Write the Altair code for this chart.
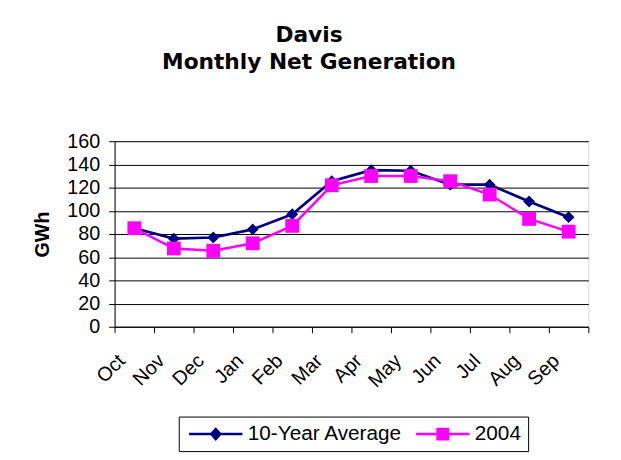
import altair as alt
import pandas as pd

months = ["Oct", "Nov", "Dec", "Jan", "Feb", "Mar", "Apr", "May", "Jun", "Jul", "Aug", "Sep"]
avg10 = [85, 76, 77, 84, 97, 125.5, 135, 134.5, 122.5, 122.5, 108, 94.5]
y2004 = [85, 67.5, 65.5, 72, 87, 122, 130, 130, 125.5, 114, 93, 82]
series = ["10-Year Average", "2004"]
colors = ["#000080", "#FF00FF"]
y_ticks = [0, 20, 40, 60, 80, 100, 120, 140, 160]

rows = []
for s, vals in zip(series, [avg10, y2004]):
    for m, v in zip(months, vals):
        rows.append({"month": m, "series": s, "value": v})
df = pd.DataFrame(rows)

LINE = "M-3.86,-0.18H3.86V0.18H-3.86Z"
legend_shapes = [
    LINE + "M0,-1L0.89,0L0,1L-0.89,0Z",
    LINE + "M-0.93,-0.93H0.93V0.93H-0.93Z",
]

FONT = "Liberation Sans"

x = alt.X(
    "month:N",
    sort=months,
    scale=alt.Scale(type="band", paddingInner=0, paddingOuter=0),
    axis=alt.Axis(
        title=None, tickBand="extent", labelAngle=-45, labelAlign="right",
        labelBaseline="middle", labelPadding=25, labelOffset=-13,
        labelFont=FONT, labelFontSize=20, labelColor="black",
        tickSize=6, tickColor="black", domainColor="black", grid=False,
    ),
)
y = alt.Y(
    "value:Q",
    scale=alt.Scale(domain=[0, 160], nice=False, zero=True),
    axis=alt.Axis(
        title="GWh", values=y_ticks, labelFont=FONT, labelFontSize=20,
        labelColor="black", labelPadding=9, tickSize=6, tickColor="black",
        domainColor="black", grid=True, gridColor="black", gridWidth=1,
        gridOpacity=1, titleFont=FONT, titleFontSize=20, titleFontWeight="bold",
        titleColor="black", titlePadding=15,
    ),
)
color_scale = alt.Scale(domain=series, range=colors)

base = alt.Chart(df).encode(
    x=x, y=y, color=alt.Color("series:N", scale=color_scale, legend=None)
)

line10 = base.transform_filter(alt.datum.series == series[0]).mark_line(strokeWidth=2.7)
pts10 = base.transform_filter(alt.datum.series == series[0]).mark_point(
    filled=True, shape="diamond", size=144, opacity=1
)
line04 = base.transform_filter(alt.datum.series == series[1]).mark_line(strokeWidth=2.5)
pts04 = base.transform_filter(alt.datum.series == series[1]).mark_point(
    filled=True, shape="square", size=196, opacity=1
)

leg = alt.Legend(
    title=None, orient="none", legendX=65, legendY=279, direction="horizontal",
    symbolSize=196, symbolOffset=20, labelOffset=22, columnPadding=10,
    padding=7, strokeColor="black", fillColor="white", labelFont=FONT,
    labelFontSize=21, labelColor="black", symbolStrokeWidth=0, labelLimit=400,
    symbolOpacity=1,
)
legend_layer = base.mark_point(filled=True, size=0, strokeWidth=0).encode(
    color=alt.Color("series:N", scale=color_scale, legend=leg),
    shape=alt.Shape("series:N", scale=alt.Scale(domain=series, range=legend_shapes), legend=leg),
)

chart = (
    alt.layer(line10, pts10, line04, pts04, legend_layer)
    .resolve_legend(color="independent", shape="independent")
    .properties(
        width=480,
        height=188,
        autosize=alt.AutoSizeParams(type="none"),
        padding={"left": 108, "top": 132, "right": 25, "bottom": 130},
        title=alt.TitleParams(
            ["Davis", "Monthly Net Generation"], font="DejaVu Sans", fontSize=22,
            fontWeight="bold", color="black", anchor="middle", dx=-43,
            offset=58, lineHeight=28,
        ),
    )
    .configure_view(stroke="#808080", strokeWidth=1)
    .configure(background="white")
)

chart.save("out.html", embed_options={"renderer": "svg", "actions": False})
